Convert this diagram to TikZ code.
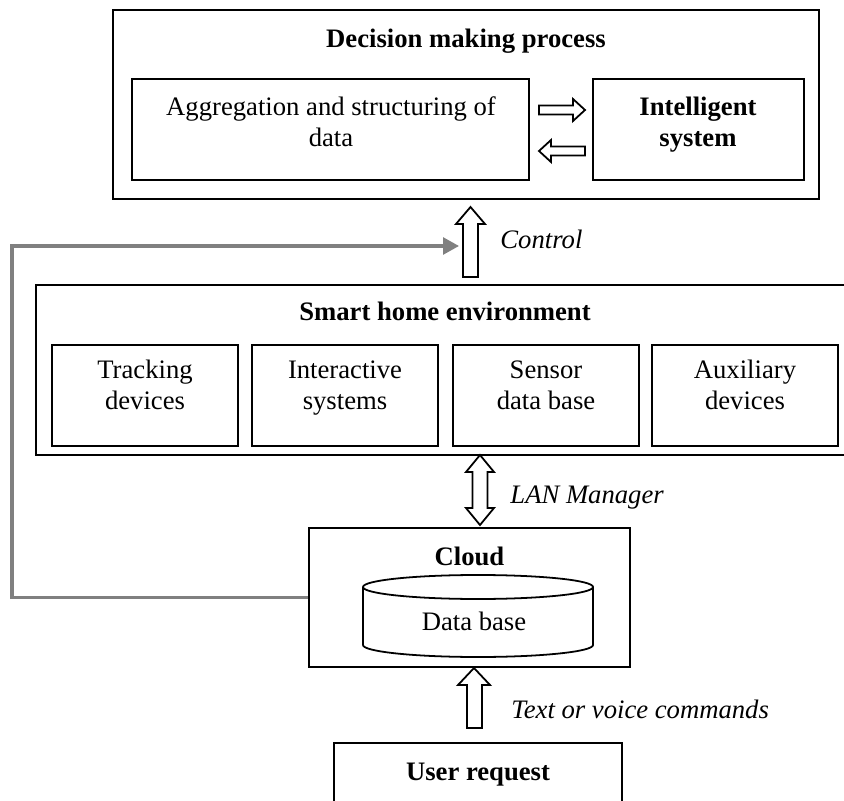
\documentclass[tikz,border=0pt]{standalone}
\usepackage{fontspec}
\setmainfont{Liberation Serif}
\usetikzlibrary{fit,calc,arrows.meta}
\begin{document}
\begin{tikzpicture}[x=0.45pt,y=-0.45pt,
  box/.style={draw, line width=0.8pt, inner sep=0pt},
  txt/.style={align=center, inner sep=0pt, font=\fontsize{12}{14}\selectfont},
  btxt/.style={align=center, inner sep=0pt, font=\fontsize{12}{14}\selectfont\bfseries},
  lbl/.style={anchor=west, inner sep=0pt, text height=9.8pt, text depth=4.2pt, font=\fontsize{12}{14}\selectfont\itshape},
  hollow/.style={draw, line width=0.8pt, fill=white, line join=miter},
  greyline/.style={draw=gray, line width=1.4pt, line join=miter, -{Triangle[length=7.2pt,width=7.6pt]}}]
\useasboundingbox (0,0) rectangle (844,801);

% Decision making process
\node[box, fit={(113,10)(819,199)}] (dmp) {};
\node[btxt] (dmpt) at (466,41) {\strut Decision making process\strut};
\node[box, fit={(132,79)(529,180)}] (agg) {};
\node[txt] (aggt) at (331,125) {\strut Aggregation and structuring of\\data\strut};
\node[box, fit={(593,79)(804,180)}] (intel) {};
\node[btxt] (intelt) at (698,125) {\strut Intelligent\\system\strut};

% arrows between aggregation and intelligent system
\draw[hollow] (539,105.5) -- (573,105.5) -- (573,99) -- (585,110) -- (573,121) -- (573,114.5) -- (539,114.5) -- cycle;
\draw[hollow] (585,146.5) -- (551,146.5) -- (551,140) -- (539,151) -- (551,162) -- (551,155.5) -- (585,155.5) -- cycle;

% Control arrow
\draw[hollow] (463,277) -- (463,224) -- (456,224) -- (470.5,207) -- (485,224) -- (478,224) -- (478,277) -- cycle;
\node[lbl] (ctrl) at (500,242) {Control};

% Smart home environment
\node[box, fit={(36,285)(848,455)}] (she) {};
\node[btxt] (shet) at (445,314) {\strut Smart home environment\strut};
\node[box, fit={(52,345)(238,446)}] (trk) {};
\node[txt] at (trk.center |- 0,388) {\strut Tracking\\devices\strut};
\node[box, fit={(252,345)(438,446)}] (inter) {};
\node[txt] at (inter.center |- 0,388) {\strut Interactive\\systems\strut};
\node[box, fit={(453,345)(639,446)}] (sens) {};
\node[txt] at (sens.center |- 0,388) {\strut Sensor\\data base\strut};
\node[box, fit={(652,345)(838,446)}] (aux) {};
\node[txt] at (aux.center |- 0,388) {\strut Auxiliary\\devices\strut};

% LAN Manager double arrow
\draw[hollow] (480,455) -- (494,472) -- (487.5,472) -- (487.5,508) -- (494,508) -- (480,525) -- (466,508) -- (472.5,508) -- (472.5,472) -- (466,472) -- cycle;
\node[lbl] (lan) at (510,497) {LAN Manager};

% Cloud
\node[box, fit={(309,528)(630,667)}] (cloud) {};
\node[btxt] (cloudt) at (469.5,559) {\strut Cloud\strut};
\draw[line width=0.8pt] (478,587) ellipse [x radius=51.75pt, y radius=5.4pt];
\draw[line width=0.8pt] (363,587) -- (363,645) arc[start angle=180, end angle=360, x radius=51.75pt, y radius=5.4pt] -- (593,587);
\node[txt] (db) at (474,624) {\strut Data base\strut};

% grey feedback connector
\coordinate (gcorner) at (12,246);
\coordinate (gend) at (459,246);
\draw[greyline] (cloud.west) -| (gcorner) -- (gend);

% Text or voice commands arrow
\draw[hollow] (467,728) -- (467,685) -- (458,685) -- (474,668) -- (490,685) -- (482,685) -- (482,728) -- cycle;
\node[lbl] (tvc) at (511,712) {Text or voice commands};

% User request
\node[box, fit={(334,743)(622,810)}] (user) {};
\node[btxt] (usert) at (478,774) {\strut User request\strut};
\end{tikzpicture}
\end{document}
